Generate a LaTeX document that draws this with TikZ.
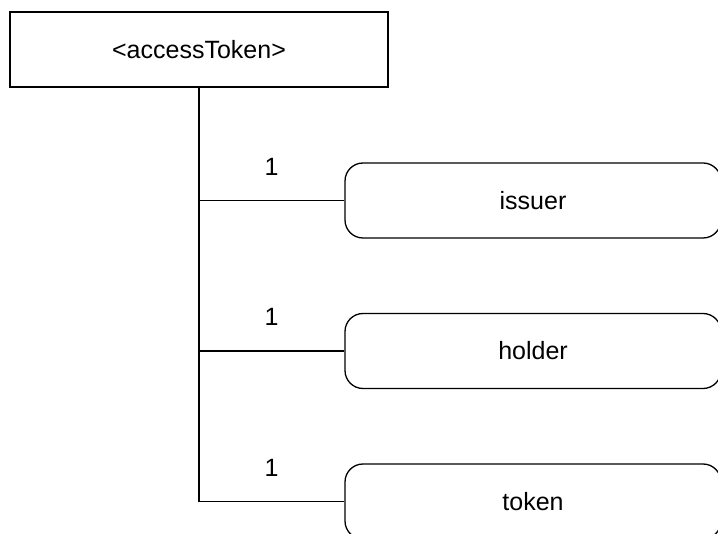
\documentclass[tikz,border=0pt]{standalone}
\usepackage{fontspec}
\setmainfont{Liberation Sans}
\usetikzlibrary{positioning}

\begin{document}
\begin{tikzpicture}[
x=1pt, y=-1pt,
% boxes
entity/.style={draw, line width=1.3pt, rectangle, inner sep=0, font=\fontsize{25}{28}\selectfont},
root/.style={entity, minimum width=378pt, minimum height=75pt},
member/.style={entity, rounded corners=18pt, minimum width=376pt, minimum height=75pt},
% links and multiplicities
link/.style={line width=1.3pt},
mult/.style={anchor=center, yshift=34pt, font=\fontsize{25}{28}\selectfont}
]

% canvas
\useasboundingbox (0,0) rectangle (718,534);
\clip (0,0) rectangle (718,534);

% NODES
\node[root] (accessToken) at (199,49.5) {<accessToken>};
\node[member] (issuer) at (533,200.5) {issuer};
\node[member] (holder) at (533,351) {holder};
\node[member] (token) at (533,501.5) {token};

% LINKS
\draw[link] (accessToken.south) |- node[mult, pos=0.75] {1} (issuer.west);
\draw[link] (accessToken.south) |- node[mult, pos=0.75] {1} (holder.west);
\draw[link] (accessToken.south) |- node[mult, pos=0.75] {1} (token.west);

\end{tikzpicture}
\end{document}
